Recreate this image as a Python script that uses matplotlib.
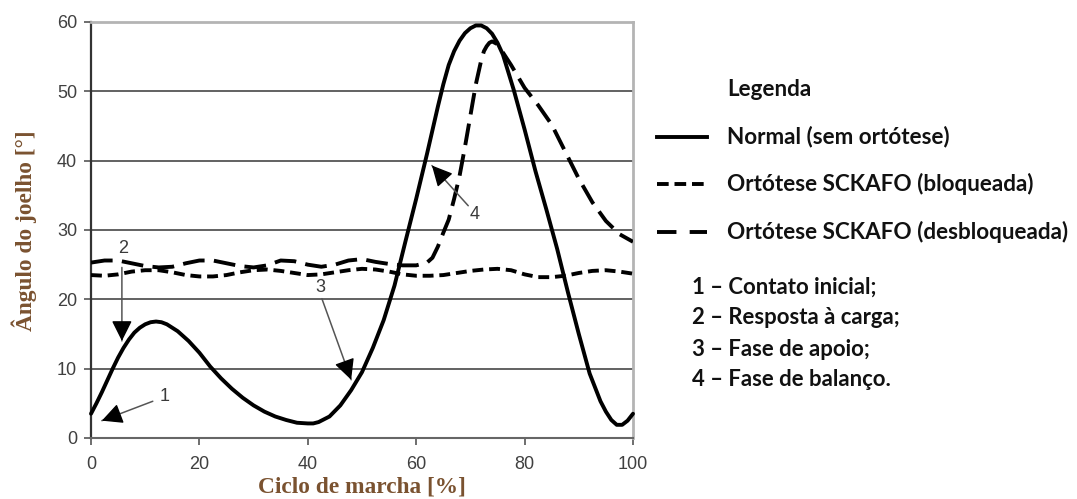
import matplotlib
matplotlib.use('Agg')
import matplotlib.pyplot as plt
from matplotlib.lines import Line2D

# ---------------- data ----------------
x_normal = [0, 1, 2, 3, 4, 5, 6, 7, 8, 9, 10, 11, 12, 13, 14, 16, 18, 20, 22, 24, 26, 28,
            30, 32, 34, 36, 38, 40, 41, 42, 44, 46, 48, 50, 52, 54, 56, 58, 60, 62, 64,
            65, 66, 67, 68, 69, 70, 71, 72, 73, 74, 75, 76, 78, 80, 82, 84, 86, 88, 90,
            92, 94, 95, 96, 97, 98, 99, 100]
y_normal = [3.5, 5.0, 6.6, 8.3, 10.0, 11.6, 13.0, 14.2, 15.2, 15.9, 16.4, 16.7, 16.8, 16.7,
            16.4, 15.4, 14.0, 12.3, 10.3, 8.6, 7.1, 5.8, 4.7, 3.8, 3.1, 2.6, 2.2, 2.1, 2.1,
            2.3, 3.1, 4.7, 6.9, 9.5, 13.0, 17.0, 22.0, 28.3, 34.5, 41.0, 47.8, 51.0, 53.8,
            55.8, 57.3, 58.4, 59.1, 59.5, 59.5, 59.1, 58.3, 57.0, 55.3, 50.2, 44.5, 38.5,
            33.0, 27.3, 21.0, 15.0, 9.3, 5.3, 3.8, 2.6, 1.9, 1.9, 2.5, 3.5]

x_blocked = [0, 2.5, 5, 7.5, 10, 12.5, 15, 17.5, 20, 22.5, 25, 27.5, 30, 32.5, 35, 37.5,
             40, 42.5, 45, 47.5, 50, 52.5, 55, 57.5, 60, 62.5, 65, 67.5, 70, 72.5, 75,
             77.5, 80, 82.5, 85, 87.5, 90, 92.5, 95, 97.5, 100]
y_blocked = [23.5, 23.4, 23.6, 24.0, 24.2, 24.2, 23.9, 23.5, 23.3, 23.3, 23.5, 23.9, 24.2,
             24.3, 24.1, 23.8, 23.5, 23.6, 23.9, 24.2, 24.4, 24.3, 24.0, 23.6, 23.4, 23.4,
             23.5, 23.8, 24.1, 24.3, 24.4, 24.2, 23.6, 23.2, 23.2, 23.4, 23.8, 24.1, 24.2,
             24.0, 23.7]

x_unlocked = [0, 2.5, 5, 7.5, 10, 12.5, 15, 17.5, 20, 22.5, 25, 27.5, 30, 32.5, 35, 37.5,
              40, 42.5, 45, 47.5, 50, 52.5, 55, 57.5, 60, 62, 63, 64, 65, 66, 67, 68, 69,
              70, 71, 72, 72.5, 73, 73.5, 74, 75, 76, 77.5, 80, 82.5, 85, 87.5, 90, 92.5,
              95, 97.5, 100]
y_unlocked = [25.3, 25.6, 25.6, 25.2, 24.8, 24.6, 24.7, 25.2, 25.6, 25.6, 25.2, 24.8, 24.6,
              24.9, 25.6, 25.5, 25.0, 24.7, 25.0, 25.6, 25.8, 25.4, 25.1, 24.9, 24.9, 25.3,
              26.0, 27.6, 29.6, 31.5, 34.5, 37.8, 42.0, 46.5, 51.0, 54.5, 55.8, 56.5, 57.0,
              57.2, 56.8, 55.6, 53.8, 50.5, 48.0, 45.2, 41.3, 37.4, 34.0, 31.3, 29.4, 28.3]

x_ticks = [0, 20, 40, 60, 80, 100]
y_ticks = [0, 10, 20, 30, 40, 50, 60]

series_labels = ["Normal (sem ortótese)", "Ortótese SCKAFO (bloqueada)",
                 "Ortótese SCKAFO (desbloqueada)"]
legend_title = "Legenda"
phase_labels = ["1 – Contato inicial;", "2 – Resposta à carga;",
                "3 – Fase de apoio;", "4 – Fase de balanço."]
xlabel = "Ciclo de marcha [%]"
ylabel = "Ângulo do joelho [°]"

# annotations: (label, text position, arrow start, arrow tip)
annotations = [
    ("1", (13.6, 6.0), (11.4, 5.3), (2.0, 2.5)),
    ("2", (5.9, 27.4), (5.7, 24.6), (5.7, 14.0)),
    ("3", (42.3, 21.7), (42.6, 20.1), (48.0, 8.4)),
    ("4", (70.8, 32.2), (69.6, 33.5), (62.9, 39.3)),
]

# ---------------- figure ----------------
W, H = 1077, 499
fig = plt.figure(figsize=(W / 100, H / 100), dpi=100)
ax = fig.add_axes([91 / W, 1 - 438 / H, (633 - 91) / W, (438 - 22) / H])
ax.set_xlim(0, 100)
ax.set_ylim(0, 60)

for yv in y_ticks[1:-1]:
    ax.axhline(yv, color='#555555', lw=1.3, zorder=1)

for s in ['top', 'right']:
    ax.spines[s].set_color('#b4b4b4')
    ax.spines[s].set_linewidth(2.0)
ax.spines['bottom'].set_color('#666666')
ax.spines['bottom'].set_linewidth(1.5)
ax.spines['left'].set_color('#333333')
ax.spines['left'].set_linewidth(1.6)

ax.set_xticks(x_ticks)
ax.set_yticks(y_ticks)
ax.tick_params(direction='out', length=5, width=1.2, color='#555555',
               labelsize=13, labelcolor='#404040')
ax.tick_params(axis='x', pad=8)
ax.tick_params(axis='y', pad=5)
for lab in ax.get_xticklabels() + ax.get_yticklabels():
    lab.set_family('Liberation Sans')

LW = 2.8
common = dict(color='black', lw=LW, solid_joinstyle='round', dash_joinstyle='round')
ax.plot(x_normal, y_normal, zorder=5, clip_on=False, solid_capstyle='round', **common)
ax.plot(x_blocked, y_blocked, zorder=4, dashes=(2.8, 1.5), **common)
ax.plot(x_unlocked, y_unlocked, zorder=4, dashes=(5.6, 2.4), **common)

for lab, tpos, start, tip in annotations:
    ax.text(tpos[0], tpos[1], lab, ha='center', va='center', fontsize=13,
            family='Liberation Sans', color='#3a3a3a', zorder=6)
    ax.annotate('', xy=tip, xytext=start,
                arrowprops=dict(arrowstyle='-', color='#555555', lw=1.1,
                                shrinkA=0, shrinkB=0), zorder=6)
    hx = tip[0] + 0.2 * (start[0] - tip[0])
    hy = tip[1] + 0.2 * (start[1] - tip[1])
    ax.annotate('', xy=tip, xytext=(hx, hy),
                arrowprops=dict(arrowstyle='-|>,head_length=0.9,head_width=0.45',
                                color='black', lw=1.0, shrinkA=0, shrinkB=0,
                                mutation_scale=14), zorder=7)

renderer = fig.canvas.get_renderer()


def fitted_size(s, width_px, **kw):
    t = fig.text(0, 0, s, fontsize=12, **kw)
    w = t.get_window_extent(renderer).width
    t.remove()
    return 12 * width_px / w


# axis labels
lab_kw = dict(family='Liberation Serif', weight='bold', color='#7a5230')
fs_lab = fitted_size(xlabel, 207, **lab_kw)
fig.text(362 / W, 1 - 487 / H, xlabel, ha='center', va='center', fontsize=fs_lab, **lab_kw)
fig.text(24 / W, 1 - 231 / H, ylabel, ha='center', va='center', rotation=90,
         fontsize=fs_lab, **lab_kw)

# legend
leg_kw = dict(family='Lato', weight='bold', color='#111111')
fs_leg = fitted_size(series_labels[2], 341, **leg_kw)
fig.text(727 / W, 1 - 90 / H, legend_title, ha='left', va='center', fontsize=fs_leg, **leg_kw)
rows_y = [137, 184, 232]
leg_dashes = [None, (3.0, 1.5), (5.0, 3.4)]
for lbl, yy, d in zip(series_labels, rows_y, leg_dashes):
    ln = Line2D([657 / W, 707 / W], [1 - yy / H] * 2, transform=fig.transFigure,
                color='black', lw=LW)
    if d is not None:
        ln.set_dashes(d)
    fig.add_artist(ln)
    fig.text(727 / W, 1 - yy / H, lbl, ha='left', va='center', fontsize=fs_leg, **leg_kw)

fs_ph = fitted_size(phase_labels[1], 206, **leg_kw)
for lbl, yy in zip(phase_labels, [287, 318, 349, 380]):
    fig.text(692 / W, 1 - yy / H, lbl, ha='left', va='center', fontsize=fs_ph, **leg_kw)

fig.savefig('out.png', dpi=100)
